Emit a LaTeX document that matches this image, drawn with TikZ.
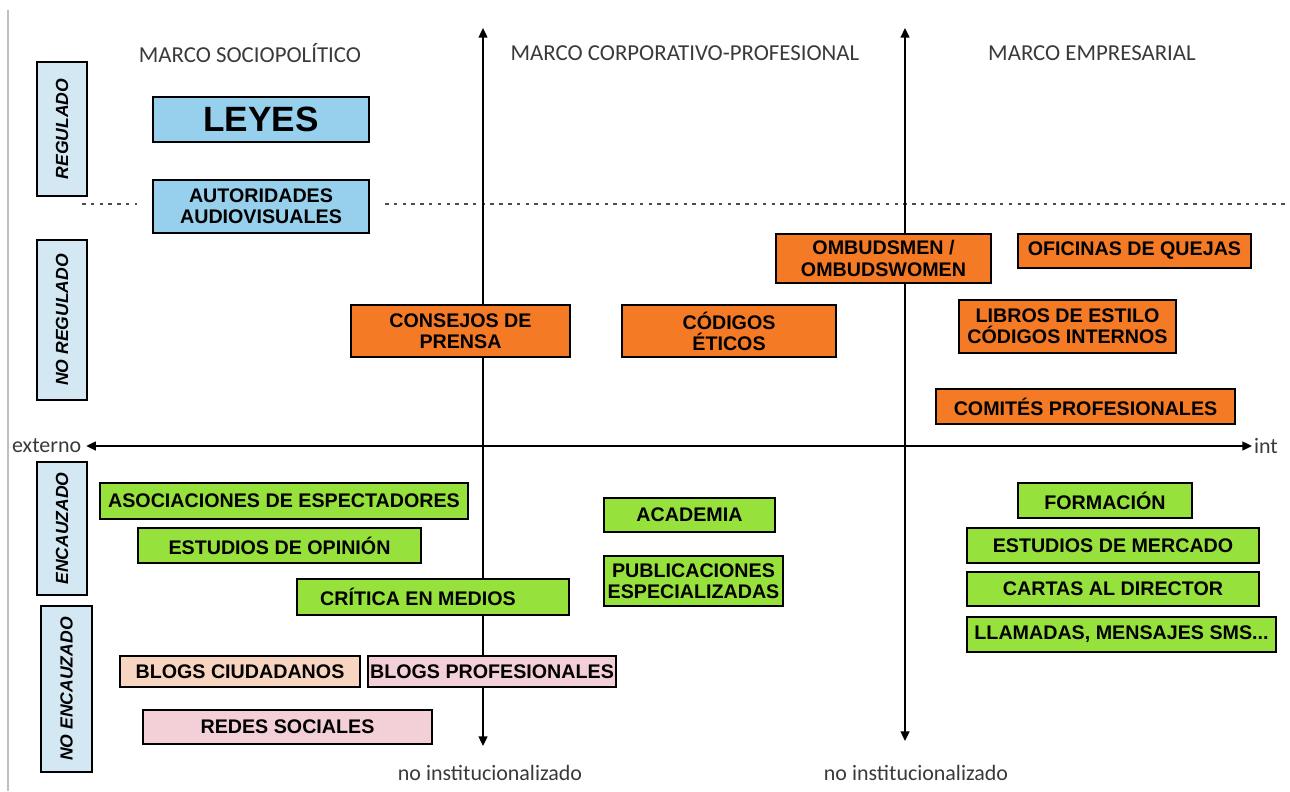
\documentclass[tikz,border=0pt]{standalone}
\usepackage{fontspec}
\setmainfont{Liberation Sans}
\newfontfamily\calfont{Carlito}
\usetikzlibrary{arrows.meta}
\definecolor{lblue}{HTML}{D4E8F4}
\definecolor{bblue}{HTML}{96D0EC}
\definecolor{orng}{HTML}{F47A25}
\definecolor{grn}{HTML}{96E13C}
\definecolor{peach}{HTML}{F7D5C0}
\definecolor{pinkb}{HTML}{F3CFD8}
\definecolor{hdr}{HTML}{3A3A3A}
\newcommand\bx[7]{\node[#6, minimum width={(#4-#2)*0.02cm}, minimum height={(#5-#3)*0.02cm}] (#1) at ({(#2+#4)/2},{(#3+#5)/2}) {#7};}
\newcommand\lb[6]{\node[lbl, rotate=90, minimum width={(#5-#3)*0.02cm}, minimum height={(#4-#2)*0.02cm}] (#1) at ({(#2+#4)/2},{(#3+#5)/2}) {#6};}
\tikzset{
  boxbase/.style={draw=black, line width=0.8pt, inner sep=1pt, align=center, text=black,
    font=\bfseries\fontsize{11.2}{12}\selectfont},
  bluebox/.style={boxbase, fill=bblue},
  orbox/.style={boxbase, fill=orng},
  grbox/.style={boxbase, fill=grn},
  pebox/.style={boxbase, fill=peach},
  pibox/.style={boxbase, fill=pinkb},
  lbl/.style={draw=black, line width=0.8pt, fill=lblue, inner sep=1pt,
    font=\bfseries\itshape\fontsize{10}{12}\selectfont},
  hdrtxt/.style={font=\calfont\fontsize{13}{15}\selectfont, text=hdr, inner sep=0pt},
  axtxt/.style={font=\calfont\fontsize{12.5}{14}\selectfont, text=hdr, inner sep=1pt},
  axis/.style={line width=1.1pt, {Triangle[length=5.5pt,width=5pt]}-{Triangle[length=5.5pt,width=5pt]}},
  dotline/.style={line width=0.6pt, draw=black!70, dash pattern=on 2pt off 3pt}
}
\begin{document}
\begin{tikzpicture}[x=0.02cm, y=-0.02cm]
\useasboundingbox (0,0) rectangle (1290,791);
\fill[white] (0,0) rectangle (1290,791);
% page edge
\coordinate (edgeT) at (8,10);
\coordinate (edgeB) at (8,791);
\draw[black!25, line width=0.6pt] (edgeT) -- (edgeB);
% headers
\node[hdrtxt] (h1) at (250,53) {MARCO SOCIOPOLÍTICO};
\node[hdrtxt] (h2) at (685,53) {MARCO CORPORATIVO-PROFESIONAL};
\node[hdrtxt] (h3) at (1092,53) {MARCO EMPRESARIAL};
% dotted separator
\coordinate (d1a) at (82,204); \coordinate (d1b) at (137,204);
\coordinate (d2a) at (385,204); \coordinate (d2b) at (1286,204);
\draw[dotline] (d1a) -- (d1b);
\draw[dotline] (d2a) -- (d2b);
% axes
\coordinate (vLt) at (483,28); \coordinate (vLb) at (483,746);
\coordinate (vRt) at (905,28); \coordinate (vRb) at (905,741);
\draw[axis] (vLt) -- (vLb);
\draw[axis] (vRt) -- (vRb);
\node[axtxt, anchor=west] (ext) at (10,446) {externo};
\node[axtxt, anchor=west] (intl) at (1252,446) {int};
\draw[axis] (ext.east) ++(3,0) coordinate (hL) (hL) -- (intl.west);
\node[axtxt] (ni1) at (490,773) {no institucionalizado};
\node[axtxt] (ni2) at (916,773) {no institucionalizado};
% row labels
\lb{reg}{37}{62}{87}{196}{REGULADO}
\lb{noreg}{37}{240}{87}{400}{NO REGULADO}
\lb{enc}{37}{462}{87}{595}{ENCAUZADO}
\lb{noenc}{41}{606}{92}{772}{NO ENCAUZADO}
% blue boxes
\bx{leyes}{153}{97}{369}{142}{bluebox, font=\bfseries\fontsize{20}{21}\selectfont}{LEYES}
\bx{autor}{153}{180}{369}{233}{bluebox}{AUTORIDADES\\AUDIOVISUALES}
% orange boxes
\bx{ombuds}{776}{234}{991}{283}{orbox}{OMBUDSMEN /\\OMBUDSWOMEN}
\bx{oficinas}{1018}{234}{1251}{268}{orbox}{OFICINAS DE QUEJAS}
\bx{consejos}{351}{305}{570}{357}{orbox}{CONSEJOS DE\\PRENSA}
\bx{codigos}{622}{305}{836}{357}{orbox}{CÓDIGOS\\ÉTICOS}
\bx{libros}{959}{300}{1176}{353}{orbox}{LIBROS DE ESTILO\\CÓDIGOS INTERNOS}
\bx{comites}{936}{389}{1235}{424}{orbox}{COMITÉS PROFESIONALES}
% green boxes
\bx{asoc}{100}{483}{468}{519}{grbox}{ASOCIACIONES DE ESPECTADORES}
\bx{estop}{138}{528}{421}{563}{grbox}{ESTUDIOS DE OPINIÓN}
\bx{critica}{297}{579}{569}{615}{grbox}{\hspace*{-0.6cm}CRÍTICA EN MEDIOS}
\bx{academia}{604}{498}{775}{532}{grbox}{ACADEMIA}
\bx{public}{604}{556}{783}{606}{grbox}{PUBLICACIONES\\ESPECIALIZADAS}
\bx{formacion}{1018}{483}{1192}{518}{grbox}{FORMACIÓN}
\bx{estmer}{967}{528}{1259}{563}{grbox}{ESTUDIOS DE MERCADO}
\bx{cartas}{967}{572}{1259}{606}{grbox}{CARTAS AL DIRECTOR}
\bx{llamadas}{967}{617}{1276}{652}{grbox}{LLAMADAS, MENSAJES SMS...}
% pink boxes
\bx{blogsc}{120}{656}{360}{687}{pebox}{BLOGS CIUDADANOS}
\bx{blogsp}{368}{656}{616}{687}{pibox}{BLOGS PROFESIONALES}
\bx{redes}{143}{710}{432}{744}{pibox}{REDES SOCIALES}
\end{tikzpicture}
\end{document}
